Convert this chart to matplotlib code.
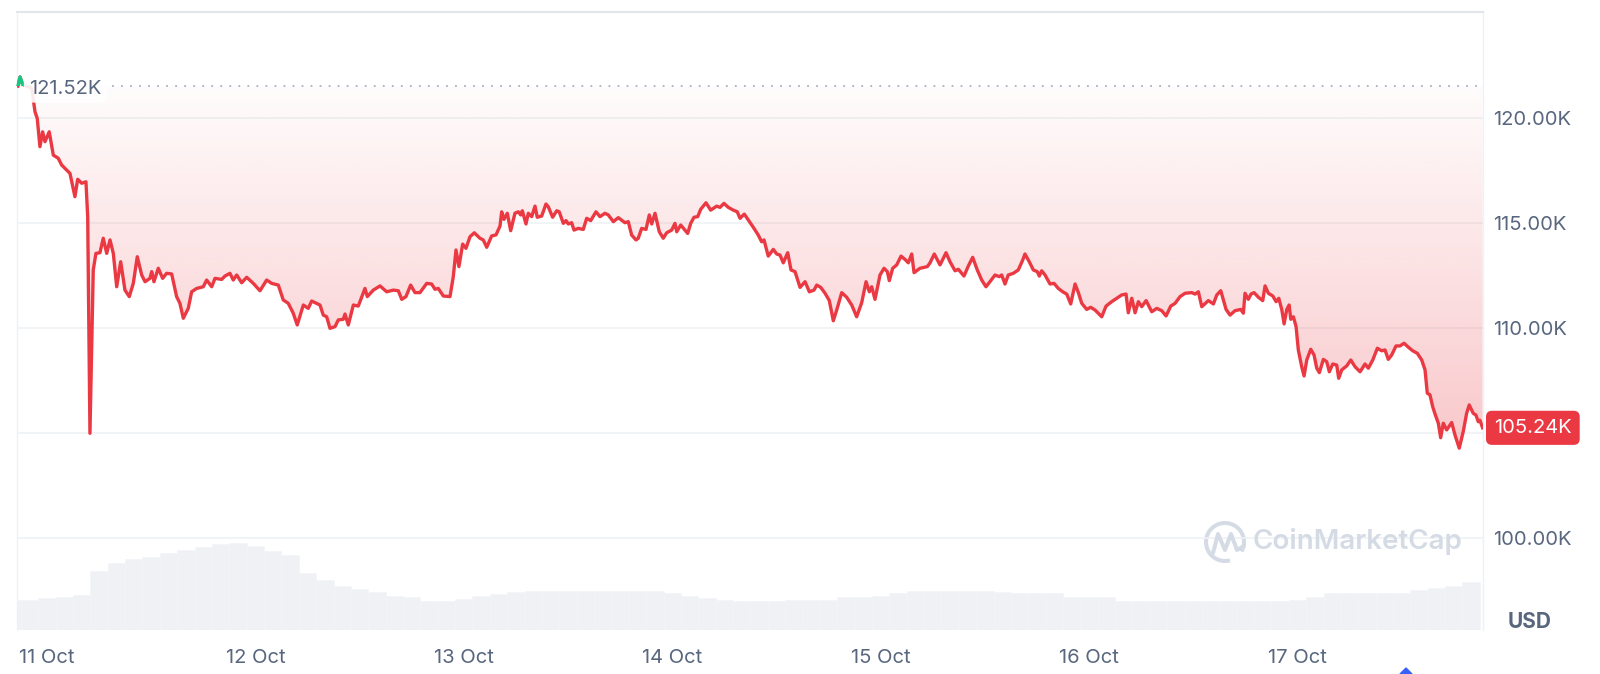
import numpy as np
import matplotlib
matplotlib.use("Agg")
import matplotlib.pyplot as plt
from matplotlib.colors import to_rgb
from matplotlib.patches import Rectangle, Arc, Polygon
from matplotlib.lines import Line2D
from matplotlib.transforms import IdentityTransform, blended_transform_factory

plt.rcParams['font.family'] = ['Inter', 'DejaVu Sans']

# hours after 11 Oct 00:00, price in thousands of USD
hours = [
    -3.35, -3.10, -2.80, -1.76, -1.38, -1.12, -0.81, -0.50, -0.23, 0.26,
    0.73, 1.30, 1.69, 2.07, 2.65, 3.22, 3.54, 4.00, 4.49, 4.69,
    4.95, 5.33, 5.64, 6.10, 6.48, 6.88, 7.26, 7.64, 8.03, 8.49,
    8.98, 9.48, 9.94, 10.40, 10.91, 11.29, 11.86, 12.06, 12.32, 12.82,
    13.32, 13.78, 14.36, 14.93, 15.31, 15.70, 16.27, 16.66, 17.24, 18.00,
    18.39, 18.97, 19.35, 20.12, 20.50, 21.07, 21.45, 21.85, 22.42, 23.00,
    23.76, 24.53, 25.30, 25.88, 26.64, 27.21, 27.79, 28.36, 28.82, 29.52,
    30.09, 30.48, 31.44, 31.82, 32.21, 32.59, 33.17, 33.55, 34.12, 34.32,
    34.70, 35.28, 35.85, 36.62, 36.89, 37.58, 38.35, 39.12, 39.88, 40.46,
    40.85, 41.34, 41.88, 42.38, 42.95, 43.73, 44.30, 44.68, 45.06, 45.64,
    46.41, 46.79, 47.10, 47.44, 47.87, 48.25, 48.71, 49.21, 49.86, 50.24,
    50.64, 51.21, 51.71, 52.17, 52.36, 52.63, 53.01, 53.40, 53.89, 54.28,
    54.55, 54.74, 55.16, 55.43, 55.82, 56.20, 56.46, 56.97, 57.46, 57.73,
    58.23, 58.70, 58.99, 59.46, 59.77, 60.04, 60.42, 60.69, 61.19, 61.76,
    62.15, 62.61, 63.22, 63.68, 64.26, 64.64, 65.22, 65.79, 66.56, 66.94,
    67.33, 67.83, 68.09, 68.48, 68.98, 69.36, 69.64, 70.02, 70.51, 70.97,
    71.36, 71.94, 72.32, 72.52, 72.98, 73.47, 73.78, 74.13, 74.51, 74.94,
    75.28, 75.89, 76.43, 77.12, 77.50, 77.96, 78.46, 79.03, 79.49, 79.81,
    80.30, 80.76, 81.34, 81.91, 82.30, 82.57, 83.06, 83.64, 84.03, 84.41,
    84.79, 85.30, 85.68, 86.14, 86.72, 87.30, 87.79, 88.33, 88.64, 89.10,
    89.60, 90.09, 90.55, 90.94, 91.52, 92.09, 92.67, 93.24, 93.82, 94.32,
    94.70, 94.97, 95.35, 95.93, 96.39, 96.77, 97.00, 97.39, 97.85, 98.35,
    98.81, 99.19, 99.58, 99.85, 100.53, 101.38, 101.69, 102.18, 102.84, 103.53,
    103.99, 104.57, 104.95, 105.60, 106.10, 106.60, 107.13, 107.64, 108.13, 108.59,
    109.17, 109.67, 109.94, 110.32, 110.70, 111.28, 111.85, 112.36, 112.62, 113.12,
    113.58, 114.04, 114.27, 114.55, 114.93, 115.51, 115.97, 116.46, 116.97, 117.43,
    117.89, 118.39, 118.77, 119.16, 119.73, 120.19, 120.69, 121.46, 121.96, 122.61,
    123.19, 123.76, 124.26, 124.52, 124.92, 125.30, 125.68, 126.07, 126.57, 127.22,
    127.80, 128.37, 128.87, 129.41, 129.91, 130.48, 131.06, 131.83, 132.21, 132.59,
    132.98, 133.74, 134.32, 134.71, 135.17, 135.78, 136.24, 136.81, 137.47, 137.77,
    137.96, 138.34, 138.65, 139.00, 139.50, 140.00, 140.27, 140.65, 141.16, 141.54,
    141.85, 142.19, 142.46, 142.77, 143.04, 143.23, 143.53, 143.84, 144.10, 144.49,
    144.76, 145.07, 145.53, 145.91, 146.22, 146.52, 146.98, 147.37, 147.67, 148.06,
    148.52, 148.75, 149.10, 149.67, 150.14, 150.63, 151.21, 151.78, 152.16, 152.67,
    153.20, 153.70, 154.08, 154.46, 154.85, 155.35, 155.81, 156.27, 156.77, 157.27,
    157.80, 158.31, 158.69, 158.95, 159.26, 159.57, 159.84, 160.22, 160.49, 160.79,
    161.18, 161.76, 162.14, 162.63, 163.09, 163.48, 163.78, 164.24, 164.55, 164.82,
    165.01, 165.32,
]
price_k = [
    121.52, 121.95, 121.60, 121.42, 120.30, 119.98, 118.63, 119.34, 118.87, 119.34,
    118.23, 118.08, 117.76, 117.60, 117.36, 116.25, 117.08, 116.89, 116.96, 115.30,
    104.98, 112.76, 113.55, 113.58, 114.27, 113.55, 114.19, 113.55, 111.96, 113.15,
    111.80, 111.49, 112.12, 113.39, 112.52, 112.20, 112.36, 112.68, 112.20, 112.84,
    112.36, 112.60, 112.57, 111.49, 111.17, 110.46, 110.93, 111.72, 111.88, 111.96,
    112.28, 111.96, 112.36, 112.31, 112.47, 112.60, 112.28, 112.52, 112.15, 112.41,
    112.12, 111.77, 112.28, 112.12, 112.04, 111.33, 111.17, 110.70, 110.14, 111.09,
    110.93, 111.28, 111.09, 110.61, 110.53, 109.98, 110.06, 110.38, 110.41, 110.66,
    110.14, 111.09, 111.04, 111.88, 111.49, 111.80, 112.00, 111.72, 111.80, 111.77,
    111.36, 111.49, 112.04, 111.68, 111.68, 112.12, 112.09, 111.84, 111.88, 111.52,
    111.49, 112.44, 113.71, 112.92, 113.99, 113.79, 114.34, 114.53, 114.27, 114.19,
    113.84, 114.38, 114.43, 114.85, 115.53, 115.17, 115.46, 114.63, 115.46, 115.53,
    115.38, 115.58, 114.95, 115.46, 115.30, 115.80, 115.27, 115.33, 115.90, 115.77,
    115.27, 115.58, 115.53, 114.98, 115.11, 114.95, 115.01, 114.66, 114.74, 114.69,
    115.22, 115.11, 115.53, 115.30, 115.46, 115.38, 115.06, 115.25, 115.01, 115.06,
    114.42, 114.19, 114.27, 114.74, 114.69, 115.38, 114.95, 115.46, 114.58, 114.27,
    114.53, 114.66, 114.98, 114.58, 114.90, 114.66, 114.50, 114.98, 115.27, 115.30,
    115.65, 115.96, 115.61, 115.80, 115.74, 115.93, 115.74, 115.61, 115.53, 115.22,
    115.42, 115.14, 114.79, 114.42, 114.10, 114.19, 113.42, 113.74, 113.52, 113.47,
    113.10, 113.58, 112.76, 112.68, 111.93, 112.20, 111.72, 111.80, 112.04, 111.93,
    111.65, 111.30, 110.34, 110.85, 111.68, 111.46, 111.09, 110.53, 111.20, 112.20,
    111.72, 111.96, 111.36, 112.52, 112.84, 112.68, 112.25, 112.84, 113.00, 113.42,
    113.26, 113.10, 113.52, 112.63, 112.84, 112.92, 113.10, 113.52, 113.00, 113.58,
    113.15, 112.72, 112.79, 112.47, 112.95, 113.36, 112.76, 112.28, 111.96, 112.20,
    112.52, 112.44, 112.52, 112.09, 112.52, 112.60, 112.76, 113.23, 113.52, 113.15,
    112.76, 112.68, 112.47, 112.72, 112.52, 112.09, 112.12, 111.88, 111.72, 111.61,
    111.14, 112.09, 111.68, 111.17, 110.88, 110.98, 110.85, 110.53, 111.04, 111.25,
    111.41, 111.57, 111.61, 110.72, 111.41, 110.72, 111.25, 111.01, 111.30, 110.77,
    110.93, 110.82, 110.57, 111.04, 111.17, 111.49, 111.65, 111.68, 111.61, 111.72,
    111.01, 111.30, 111.14, 111.57, 111.77, 110.88, 110.61, 110.82, 110.88, 110.70,
    111.65, 111.36, 111.61, 111.68, 111.46, 111.30, 112.00, 111.65, 111.52, 111.25,
    111.41, 110.88, 110.19, 110.88, 111.09, 110.41, 110.53, 110.06, 108.95, 108.15,
    107.71, 108.47, 108.98, 108.71, 108.08, 107.87, 108.50, 108.39, 107.91, 108.28,
    108.23, 107.60, 108.00, 108.19, 108.47, 108.15, 107.91, 108.28, 108.08, 108.47,
    109.03, 108.91, 108.95, 108.50, 108.71, 109.14, 109.14, 109.27, 109.08, 108.91,
    108.79, 108.47, 108.00, 106.89, 106.81, 106.25, 105.90, 105.46, 104.77, 105.46,
    105.14, 105.49, 104.90, 104.27, 105.06, 105.93, 106.33, 105.93, 105.85, 105.53,
    105.60, 105.24,
]

# volume bars every 2 hours (billions USD)
vol_hours = list(range(-4, 166, 2))
vol_b = [
    60, 60, 64, 66, 70, 118, 134, 142, 146, 154,
    160, 166, 172, 174, 168, 158, 150, 114, 100, 88,
    82, 76, 68, 66, 58, 58, 62, 68, 72, 76,
    78, 78, 78, 78, 78, 78, 78, 78, 74, 68,
    64, 60, 58, 58, 58, 60, 60, 60, 66, 66,
    68, 74, 78, 78, 78, 78, 78, 76, 74, 74,
    74, 66, 66, 66, 58, 58, 58, 58, 58, 58,
    58, 58, 58, 58, 60, 66, 74, 74, 74, 74,
    74, 80, 84, 88, 96,
]

open_price = 121.52
last_price = 105.24
day_ticks = [0, 24, 48, 72, 96, 120, 144]
day_labels = ['11 Oct', '12 Oct', '13 Oct', '14 Oct', '15 Oct', '16 Oct', '17 Oct']
price_ticks = [100, 105, 110, 115, 120]

RED = '#ea3943'
GREEN = '#16c784'
GREY = '#58667e'
GRID = '#eff2f5'

fig = plt.figure(figsize=(16, 6.74), dpi=100)
ax = fig.add_axes([0.0109, 0.0653, 0.9160, 0.9176])
vax = ax.twinx()
ax.set_zorder(vax.get_zorder() + 1)
ax.patch.set_visible(False)

# volume
vax.bar(vol_hours, vol_b, width=2.0, color='#eff1f5', edgecolor='#f4f5f8',
        linewidth=0.4)
vax.set_ylim(0, 1237)
vax.axis('off')

x = np.array(hours)
p = np.array(price_k)

# gradient fill between open line and price
poly = ax.fill_between(x, np.minimum(p, open_price), open_price,
                       facecolor='none', edgecolor='none')
n = 256
rgba = np.zeros((n, 1, 4))
rgba[:, 0, :3] = to_rgb(RED)
rgba[:, 0, 3] = np.linspace(0.28, 0.015, n)
im = ax.imshow(rgba, extent=[x[0], x[-1], p.min(), open_price],
               origin='lower', aspect='auto', zorder=1, interpolation='bilinear')
im.set_clip_path(poly.get_paths()[0], transform=ax.transData)
ax.fill_between(x, p, open_price, where=p > open_price, interpolate=True,
                color=GREEN, alpha=0.15, lw=0, zorder=1)

# price line, green above open
ax.plot(x, p, color=RED, lw=2.4, solid_joinstyle='round', zorder=3)
green, = ax.plot(x, p, color=GREEN, lw=2.4, solid_joinstyle='round', zorder=4)
green.set_clip_path(Rectangle((x[0] - 5, open_price), 200, 20, transform=ax.transData))

ax.axhline(open_price, xmin=0.0645, xmax=1, color='#a8b1c0', lw=1.3,
           ls=(0, (1, 4)), zorder=2)

ax.set_xlim(-3.40, 165.37)
ax.set_ylim(95.61, 125.07)

# the 105.00K label sits under the last-price box
ax.set_yticks(price_ticks, ['' if v == 105 else f'{v:.2f}K' for v in price_ticks])
ax.yaxis.tick_right()
ax.tick_params(axis='y', length=0, pad=7, labelsize=14.5, labelcolor=GREY)
ax.set_xticks(day_ticks, day_labels)
ax.tick_params(axis='x', length=0, pad=14, labelsize=14.5, labelcolor=GREY)
ax.grid(axis='y', color=GRID, lw=1.2)
ax.set_axisbelow(True)

ax.spines['bottom'].set_visible(False)
for s in ['left', 'right']:
    ax.spines[s].set_color('#eff2f5')
    ax.spines[s].set_linewidth(1.0)
ax.spines['top'].set_color('#e2e5ea')
ax.spines['top'].set_linewidth(1.5)

trans = blended_transform_factory(ax.transAxes, ax.transData)
ax.text(0.0078, open_price - 0.12, '121.52K', transform=trans, ha='left', va='center',
        fontsize=14.5, color=GREY, zorder=6,
        bbox=dict(boxstyle='round,pad=0.25', fc='white', ec='none', alpha=0.9))
ax.text(1.0075, last_price, '105.24K', transform=trans, ha='left', va='center',
        fontsize=14.5, color='white', zorder=6, clip_on=False,
        bbox=dict(boxstyle='round,pad=0.4,rounding_size=0.3', fc=RED, ec='none'))

fig.text(0.9425, 0.0772, 'USD', fontsize=15, weight='bold', color=GREY,
         ha='left', va='center')

# watermark
fig.text(0.783, 0.1973, 'CoinMarketCap', fontsize=20, weight='semibold',
         color='#d5dbe5', ha='left', va='center')
fig.add_artist(Arc((1225, 132), 38, 38, theta1=-30, theta2=285, lw=2.9,
                   color='#d5dbe5', transform=IdentityTransform()))
fig.add_artist(Line2D([1213, 1218, 1225, 1231, 1237, 1244],
                      [121, 140, 124, 140, 124, 128], lw=2.9, color='#d5dbe5',
                      solid_capstyle='round', solid_joinstyle='round',
                      transform=IdentityTransform()))
fig.add_artist(Polygon([(1400, 0), (1412, 0), (1406, 6)], closed=True,
                       color='#3861fb', transform=IdentityTransform()))

fig.savefig('out.png', dpi=100)
